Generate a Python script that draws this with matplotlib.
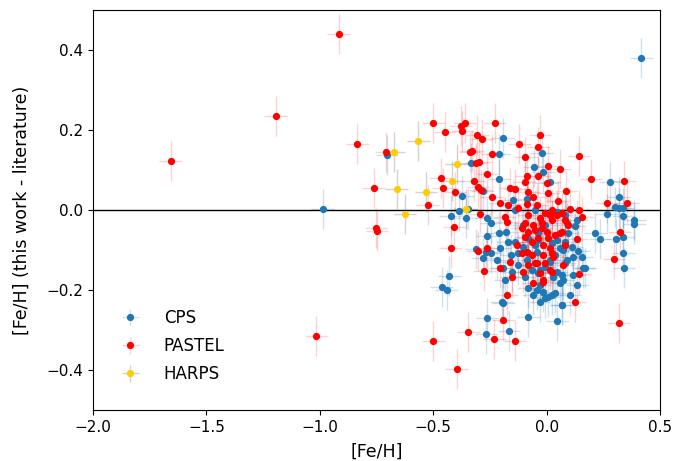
import matplotlib
matplotlib.use("Agg")
import matplotlib.pyplot as plt
from matplotlib.colors import to_rgba

# metallicity comparison: [Fe/H] from this work vs. literature catalogues
cps_feh = [
    -0.988, -0.704, 0.417, -0.333, -0.282, -0.372, -0.385, -0.345,
    -0.191, -0.210, -0.022, -0.054, -0.014, -0.210, 0.015, -0.147, -0.088, -0.051,
    -0.423, -0.357, -0.261, -0.311, -0.282, -0.267, -0.429, -0.463, -0.441, -0.261,
    -0.245, -0.210, -0.181, -0.169, -0.206, -0.245, -0.140, -0.125, -0.157, -0.103,
    -0.081, -0.051, -0.044, -0.088, -0.125, -0.066, -0.036, -0.007, 0.015, 0.037,
    0.059, 0.081, 0.096, 0.022, 0.044, 0.066, 0.081, 0.088, -0.220, -0.191,
    -0.154, -0.095, -0.029, -0.015, 0.022, -0.007, -0.029, 0.037, 0.066, -0.081,
    -0.184, -0.198, -0.191, -0.081, -0.059, 0.103, 0.059, -0.264, -0.139, 0.044,
    -0.007, -0.081, -0.036, -0.103, 0.081,
    0.280, 0.319, 0.302, 0.321, 0.335, 0.265, 0.338, 0.387, 0.387, 0.214,
    0.236, 0.306, 0.338, 0.338, 0.341, 0.133, 0.125, 0.110, 0.118, 0.140,
    0.155, 0.169, 0.118, 0.135, -0.267, -0.166, 0.047,
    -0.036, 0.044, 0.074, 0.088, 0.015, -0.029, 0.030, 0.074, -0.044, 0.008,
    0.066, 0.162,
]
cps_diff = [
    0.003, 0.138, 0.379, 0.117, 0.048, 0.035, -0.002, 0.002,
    0.179, 0.140, 0.143, 0.107, 0.096, 0.078, 0.071, 0.025, 0.027, 0.000,
    -0.014, -0.021, -0.064, -0.098, -0.119, -0.106, -0.164, -0.192, -0.200, -0.269,
    -0.033, -0.058, -0.054, -0.079, -0.096, -0.108, -0.080, -0.108, -0.113, -0.092,
    -0.108, -0.088, -0.104, -0.125, -0.138, -0.150, -0.158, -0.142, -0.129, -0.113,
    -0.096, -0.079, -0.058, -0.083, -0.154, -0.163, -0.133, -0.033, -0.125, -0.146,
    -0.154, -0.167, -0.188, -0.204, -0.213, -0.221, -0.229, -0.208, -0.238, -0.196,
    -0.175, -0.229, -0.233, -0.267, -0.213, -0.213, -0.183, -0.021, 0.000, -0.004,
    -0.038, -0.071, -0.058, -0.038, -0.013,
    0.071, 0.033, 0.007, 0.004, 0.004, -0.010, -0.014, -0.025, -0.036, -0.057,
    -0.073, -0.072, -0.068, -0.108, -0.144, -0.025, -0.040, -0.092, -0.117, -0.102,
    -0.117, -0.144, -0.163, -0.188, -0.310, -0.303, -0.277,
    -0.075, -0.075, -0.100, -0.125, -0.125, -0.150, -0.167, -0.175, -0.200, -0.217,
    -0.238, -0.146,
]

pastel_feh = [
    -1.658, -1.194, -0.917, -1.010, -0.834, -0.708, -0.763, -0.752, -0.748, -1.015,
    -0.499, -0.448, -0.377, -0.360, -0.372, -0.305, -0.286, -0.338, -0.330, -0.297,
    -0.311, -0.467, -0.455, -0.404, -0.320, -0.304, -0.291, -0.524,
    -0.294, -0.408, -0.423, -0.301, -0.261, -0.275,
    -0.228, -0.029, -0.120, -0.240, -0.095, -0.036, 0.008, 0.059, -0.261, -0.088,
    -0.036, 0.000, -0.095, 0.085, -0.161, -0.139, -0.081, -0.242, -0.206, -0.169,
    -0.125, -0.088, -0.059, -0.044, 0.008, 0.049, 0.103, 0.022,
    -0.184, -0.176, -0.081, -0.029, -0.007, 0.022, 0.044, 0.081, -0.095, -0.059,
    -0.110, -0.081, -0.051, -0.022, 0.000, -0.036, -0.066, -0.095, 0.008, 0.037,
    0.066, 0.096, -0.132, -0.110, -0.088, -0.066, -0.044, -0.015, 0.015, 0.030,
    -0.007, -0.029, 0.022, 0.081, -0.103, -0.081, -0.162, -0.206, -0.154, -0.015,
    -0.059, -0.176,
    0.143, 0.196, 0.343, 0.265, 0.356, 0.143, 0.158, 0.324, 0.297, 0.133,
    0.144, 0.125, 0.319,
    -0.499, -0.345, -0.397, -0.230, -0.139, -0.191,
    0.066, 0.015, -0.022, 0.059, -0.014, 0.022, -0.051, 0.015, -0.014, 0.074,
]
pastel_diff = [
    0.122, 0.235, 0.441, 0.560, 0.165, 0.144, 0.055, -0.045, -0.052, -0.316,
    0.217, 0.194, 0.210, 0.217, 0.198, 0.188, 0.177, 0.144, 0.148, 0.119,
    0.117, 0.081, 0.056, 0.046, 0.073, 0.057, 0.050, 0.012,
    -0.010, -0.043, -0.094, -0.102, -0.094, -0.153,
    0.217, 0.188, 0.165, 0.140, 0.132, 0.158, 0.110, 0.103, 0.089, 0.085,
    0.085, 0.067, 0.071, 0.048, 0.054, 0.052, 0.046, 0.033, 0.017, 0.013,
    0.004, 0.015, 0.032, 0.013, 0.042, 0.023, 0.002, 0.000,
    -0.017, -0.029, -0.013, -0.021, -0.008, -0.025, -0.013, -0.025, -0.033, -0.038,
    -0.046, -0.054, -0.050, -0.046, -0.054, -0.071, -0.079, -0.067, -0.071, -0.063,
    -0.054, -0.038, -0.088, -0.108, -0.104, -0.113, -0.133, -0.113, -0.096, -0.117,
    -0.133, -0.158, -0.154, -0.088, -0.154, -0.138, -0.129, -0.146, -0.167, -0.175,
    -0.183, -0.213,
    0.136, 0.077, 0.073, 0.017, 0.017, 0.000, -0.018, -0.054, -0.123, -0.073,
    -0.160, -0.229, -0.283,
    -0.328, -0.306, -0.398, -0.323, -0.328, -0.275,
    -0.008, -0.013, -0.033, -0.058, -0.088, -0.108, -0.133, -0.150, -0.179, -0.138,
]

harps_feh = [-0.673, -0.566, -0.661, -0.532, -0.624, -0.397, -0.416, -0.357]
harps_diff = [0.144, 0.173, 0.052, 0.044, -0.010, 0.115, 0.073, 0.002]

feh_err = 0.05
diff_err = 0.05

fig = plt.figure(figsize=(6.86, 4.61), dpi=100)
ax = fig.add_axes([0.1356, 0.1106, 0.8265, 0.8677])

ax.errorbar(cps_feh, cps_diff, xerr=feh_err, yerr=diff_err, fmt="o", ms=4.2,
            color="#1f77b4", ecolor=to_rgba("#1f77b4", 0.22), elinewidth=1,
            capsize=0, label="CPS")
ax.errorbar(pastel_feh, pastel_diff, xerr=feh_err, yerr=diff_err, fmt="o", ms=4.2,
            color="red", ecolor=to_rgba("red", 0.18), elinewidth=1,
            capsize=0, label="PASTEL")
ax.errorbar(harps_feh, harps_diff, xerr=feh_err, yerr=diff_err, fmt="o", ms=4.2,
            color="#ffcc00", ecolor=to_rgba("gray", 0.35), elinewidth=1,
            capsize=0, label="HARPS")

ax.axhline(0, color="black", lw=1)

ax.set_xlim(-2.0, 0.5)
ax.set_ylim(-0.5, 0.5)
ax.set_xticks([-2.0, -1.5, -1.0, -0.5, 0.0, 0.5])
ax.set_yticks([-0.4, -0.2, 0.0, 0.2, 0.4])
ax.tick_params(labelsize=11)
ax.set_xlabel("[Fe/H]", fontsize=12.5, labelpad=6)
ax.set_ylabel("[Fe/H] (this work - literature)", fontsize=12.5, labelpad=11)

ax.legend(loc="lower left", frameon=False, fontsize=12, labelspacing=0.6,
          handletextpad=1.0, bbox_to_anchor=(0.01, 0.03))

fig.savefig("out.png", dpi=100)
